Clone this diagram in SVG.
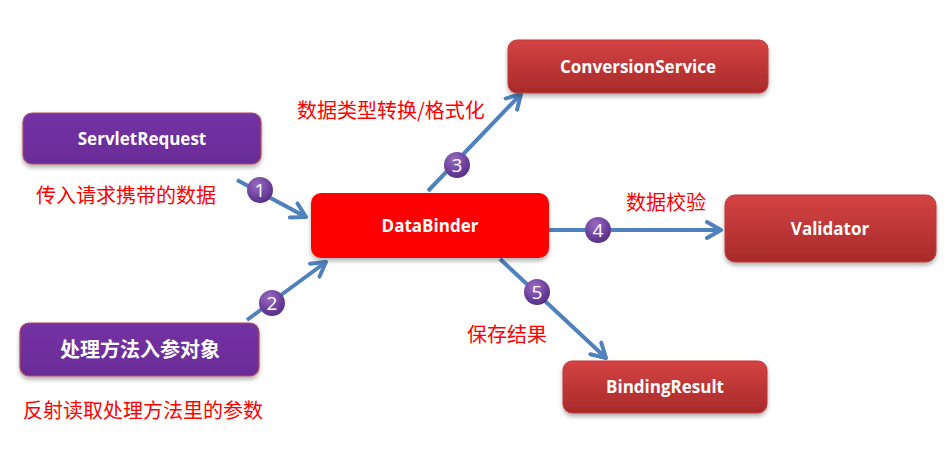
<svg xmlns="http://www.w3.org/2000/svg" width="952" height="458" viewBox="0 0 952 458">
<defs>
<linearGradient id="gRed" x1="0" y1="0" x2="0" y2="1">
<stop offset="0" stop-color="#d44343"/>
<stop offset="1" stop-color="#a82a2a"/>
</linearGradient>
<linearGradient id="gPur" x1="0" y1="0" x2="0" y2="1">
<stop offset="0" stop-color="#7331a3"/>
<stop offset="1" stop-color="#6a2c98"/>
</linearGradient>
<radialGradient id="gBadge" cx="0.4" cy="0.3" r="0.8">
<stop offset="0" stop-color="#9a6cc0"/>
<stop offset="0.6" stop-color="#6b3f9c"/>
<stop offset="1" stop-color="#4e2a7a"/>
</radialGradient>
<filter id="sh" x="-10%" y="-20%" width="120%" height="150%">
<feDropShadow dx="0" dy="3" stdDeviation="2" flood-color="#000" flood-opacity="0.3"/>
</filter>
<marker id="arr" viewBox="0 0 10 10" refX="8" refY="5" markerWidth="5" markerHeight="5" orient="auto" markerUnits="strokeWidth">
<path d="M1,1 L8,5 L1,9" fill="none" stroke="#4f81bd" stroke-width="2" stroke-linecap="round" stroke-linejoin="round"/>
</marker>
</defs>
<style>
.box{filter:url(#sh);}
.red{fill:url(#gRed);stroke:#c03a3a;stroke-width:1;}
.pur{fill:url(#gPur);stroke:#b04a5a;stroke-width:1.2;}
.lbl{font-family:"Open Sans","Liberation Sans",sans-serif;font-weight:bold;font-size:17px;fill:#fff;text-anchor:middle;}
.zh{font-family:"Noto Sans CJK SC",sans-serif;font-size:20px;fill:#ff0000;}
.zhw{font-family:"Noto Sans CJK SC",sans-serif;font-size:20px;fill:#fff;font-weight:bold;text-anchor:middle;}
.con{stroke:#4f81bd;stroke-width:4;fill:none;marker-end:url(#arr);}
.bc{fill:url(#gBadge);}
.bt{font-family:"Open Sans","Liberation Sans",sans-serif;font-size:19px;fill:#fff;text-anchor:middle;}
</style>
<rect width="952" height="458" fill="#fff"/>
<g id="connectors">
<line class="con" x1="237" y1="180" x2="306" y2="217"/>
<line class="con" x1="247" y1="320" x2="326" y2="262"/>
<line class="con" x1="428" y1="191" x2="521" y2="94"/>
<line class="con" x1="549" y1="230" x2="721" y2="230"/>
<line class="con" x1="500" y1="259" x2="606" y2="358"/>
</g>
<g id="servletrequest">
<rect class="box pur" x="23" y="113" width="238" height="51" rx="9"/>
<text class="lbl" x="142" y="145">ServletRequest</text>
</g>
<text class="zh" x="36" y="203">传入请求携带的数据</text>
<g id="handlerparam">
<rect class="box pur" x="20" y="323" width="239" height="53" rx="9"/>
<text class="zhw" x="140" y="357">处理方法入参对象</text>
</g>
<text class="zh" x="23" y="418">反射读取处理方法里的参数</text>
<g id="databinder">
<rect class="box" x="311" y="193" width="238" height="65" rx="10" fill="#ff0000"/>
<text class="lbl" x="430" y="232">DataBinder</text>
</g>
<g id="conversionservice">
<rect class="box red" x="508" y="40" width="260" height="53" rx="9"/>
<text class="lbl" x="638" y="73">ConversionService</text>
</g>
<text class="zh" x="297" y="118">数据类型转换/格式化</text>
<g id="validator">
<rect class="box red" x="725" y="195" width="211" height="67" rx="10"/>
<text class="lbl" x="830" y="235">Validator</text>
</g>
<text class="zh" x="626" y="210">数据校验</text>
<g id="bindingresult">
<rect class="box red" x="563" y="361" width="204" height="52" rx="9"/>
<text class="lbl" x="665" y="393">BindingResult</text>
</g>
<text class="zh" x="467" y="342">保存结果</text>
<g id="badge1"><circle class="bc" cx="260" cy="190" r="13"/><text class="bt" x="260" y="197">1</text></g>
<g id="badge2"><circle class="bc" cx="272" cy="303" r="13"/><text class="bt" x="272" y="310">2</text></g>
<g id="badge3"><circle class="bc" cx="457" cy="165" r="13"/><text class="bt" x="457" y="172">3</text></g>
<g id="badge4"><circle class="bc" cx="598" cy="230" r="13"/><text class="bt" x="598" y="237">4</text></g>
<g id="badge5"><circle class="bc" cx="537" cy="292" r="13"/><text class="bt" x="537" y="299">5</text></g>
</svg>
